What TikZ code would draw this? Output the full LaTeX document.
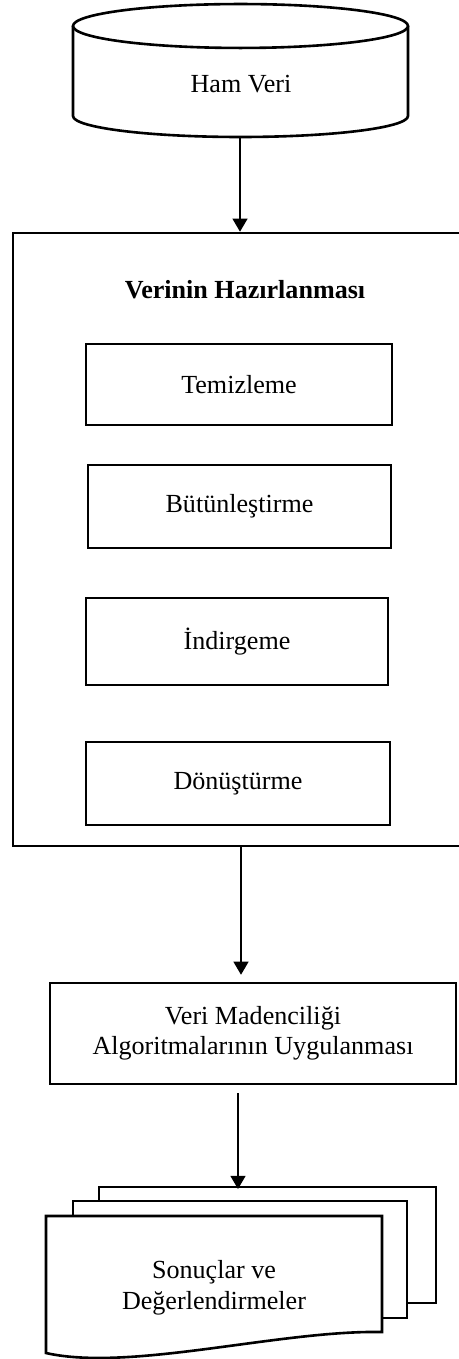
\documentclass[tikz,border=0pt]{standalone}
\usepackage{fontspec}
\setmainfont{Liberation Serif}
\usetikzlibrary{arrows.meta}
\begin{document}
\begin{tikzpicture}[x=0.46pt,y=-0.46pt,
  shapeline/.style={draw, line width=1.2pt, fill=white},
  boxnode/.style={shapeline, rectangle, inner sep=0pt},
  lbl/.style={font=\fontsize{12}{14}\selectfont, inner sep=0pt, align=center},
  conn/.style={line width=0.55pt, -{Triangle[width=6.9pt,length=6pt]}}]
\useasboundingbox (0,0) rectangle (459,1359);

% cylinder: Ham Veri
\draw[shapeline] (73,26) -- (73,116) arc[start angle=180, end angle=360, x radius=77.05pt, y radius=9.66pt] -- (408,26);
\draw[shapeline] (240.5,26) ellipse[x radius=77.05pt, y radius=10.1pt];
\node[lbl] (ham) at (241,84) {Ham Veri};
\coordinate (hamb) at (240,137);

% outer box
\node[boxnode, minimum width={457*0.46pt}, minimum height={613*0.46pt}] (prep) at (241.5,539.5) {};
\node[lbl, font=\fontsize{12}{14}\selectfont\bfseries] (title) at (245,290) {Verinin Hazırlanması};

\node[boxnode, minimum width={306*0.46pt}, minimum height={81*0.46pt}, lbl] (tem) at (239,384.5) {Temizleme};
\node[boxnode, minimum width={303*0.46pt}, minimum height={83*0.46pt}, lbl] (but) at (239.5,506.5) {Bütünleştirme};
\node[boxnode, minimum width={302*0.46pt}, minimum height={87*0.46pt}, lbl] (ind) at (237,641.5) {İndirgeme};
\node[boxnode, minimum width={304*0.46pt}, minimum height={83*0.46pt}, lbl] (don) at (238,783.5) {Dönüştürme};

% data mining box
\node[boxnode, minimum width={406*0.46pt}, minimum height={101*0.46pt}, lbl, font=\fontsize{12}{13.8}\selectfont] (vm) at (253,1033.5) {Veri Madenciliği\\Algoritmalarının Uygulanması};

% multi-document
\node[boxnode, minimum width={337*0.46pt}, minimum height={116*0.46pt}] (docb) at (267.5,1245) {};
\node[boxnode, minimum width={334*0.46pt}, minimum height={117*0.46pt}] (docm) at (240,1259.5) {};
\draw[shapeline] (46,1216) -- (382,1216) -- (382,1332) .. controls (280,1330) and (130,1372) .. (46,1353) -- cycle;
\node[lbl, font=\fontsize{12}{14.3}\selectfont] (res) at (214,1288) {Sonuçlar ve\\Değerlendirmeler};

% connectors
\draw[conn] (hamb) -- (hamb |- prep.north);
\coordinate (a2) at (241,846);
\draw[conn, shorten >=3.2pt] (a2) -- (a2 |- vm.north);
\coordinate (a3) at (238,1093);
\draw[conn, shorten >=-1.5pt] (a3) -- (a3 |- docb.north);
\end{tikzpicture}
\end{document}
